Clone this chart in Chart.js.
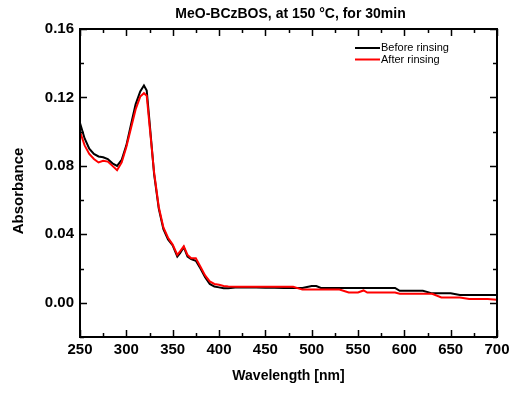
<!DOCTYPE html>
<html>
<head>
<meta charset="utf-8">
<script src="https://cdn.jsdelivr.net/npm/chart.js@4/dist/chart.umd.min.js"></script>
<style>
  body { margin: 0; background: #fff; }
  #wrap { width: 511px; height: 394px; }
</style>
</head>
<body>
<div id="wrap"><canvas id="uvChart" width="511" height="394"></canvas></div>
<script>
const chartTitle = 'MeO-BCzBOS, at 150 \u00B0C, for 30min';
const yTitle = 'Absorbance';
const seriesNames = ['Before rinsing', 'After rinsing'];
const seriesColors = ['#000000', '#ff0000'];

const wavelength = [250, 255, 260, 265, 270, 275, 280, 285, 290, 295, 300, 305, 310, 315, 319, 322, 325, 330, 335, 340,
  345, 350, 355, 358, 362, 366, 370, 375, 380, 385, 390, 395, 400, 405, 410, 420, 430, 440, 450, 460,
  470, 480, 490, 500, 505, 510, 520, 530, 540, 550, 556, 560, 570, 580, 590, 595, 600, 610, 620, 630,
  640, 650, 660, 670, 680, 690, 700];

const beforeRinsing = [0.105, 0.096, 0.090, 0.087, 0.0855, 0.085, 0.084, 0.0815, 0.080, 0.0835, 0.092, 0.104, 0.116, 0.1235, 0.127, 0.124, 0.106, 0.075, 0.055, 0.043,
  0.037, 0.0335, 0.027, 0.029, 0.0325, 0.027, 0.0255, 0.0245, 0.020, 0.015, 0.011, 0.0095, 0.009, 0.0085, 0.0085, 0.009, 0.009, 0.009, 0.0088, 0.0088,
  0.0087, 0.0087, 0.0087, 0.0098, 0.0098, 0.0087, 0.0087, 0.0087, 0.0087, 0.0087, 0.0087, 0.0087, 0.0087, 0.0087, 0.0087, 0.007, 0.007, 0.007, 0.007, 0.0055,
  0.0055, 0.0055, 0.0045, 0.0045, 0.0045, 0.0045, 0.0045];

const afterRinsing = [0.100, 0.092, 0.087, 0.084, 0.082, 0.083, 0.0825, 0.080, 0.0775, 0.082, 0.091, 0.102, 0.113, 0.1205, 0.1225, 0.121, 0.104, 0.076, 0.056, 0.044,
  0.038, 0.034, 0.028, 0.030, 0.033, 0.028, 0.026, 0.026, 0.021, 0.016, 0.0125, 0.011, 0.0105, 0.0098, 0.0095, 0.0094, 0.0094, 0.0094, 0.0094, 0.0094,
  0.0094, 0.0094, 0.0077, 0.0077, 0.0077, 0.0077, 0.0077, 0.0077, 0.006, 0.006, 0.0072, 0.006, 0.006, 0.006, 0.006, 0.0053, 0.0053, 0.0053, 0.0053, 0.0053,
  0.0031, 0.0031, 0.0031, 0.0022, 0.0022, 0.0022, 0.0017];

const xTicks = [250, 300, 350, 400, 450, 500, 550, 600, 650, 700];
const yTicks = [0.00, 0.04, 0.08, 0.12, 0.16];

const FONT = '"Liberation Sans", Arial, sans-serif';

function isLabelled(list, v) {
  return list.some(t => Math.abs(t - v) < 1e-6);
}

// frame, inward ticks, titles and legend drawn on top
const framePlugin = {
  id: 'frame',
  afterDatasetsDraw(chart) {
    const ctx = chart.ctx;
    const a = chart.chartArea;
    const xs = chart.scales.x, ys = chart.scales.y;
    ctx.save();
    ctx.strokeStyle = '#000';
    ctx.lineWidth = 2;
    ctx.strokeRect(a.left, a.top, a.right - a.left, a.bottom - a.top);

    ctx.lineWidth = 1.5;
    ctx.beginPath();
    xs.ticks.forEach(t => {
      const px = Math.round(xs.getPixelForValue(t.value)) + 0.5;
      const len = isLabelled(xTicks, t.value) ? 7 : 4;
      ctx.moveTo(px, a.bottom); ctx.lineTo(px, a.bottom - len);
      ctx.moveTo(px, a.top); ctx.lineTo(px, a.top + len);
    });
    ys.ticks.forEach(t => {
      const py = Math.round(ys.getPixelForValue(t.value)) + 0.5;
      const len = isLabelled(yTicks, t.value) ? 7 : 4;
      ctx.moveTo(a.left, py); ctx.lineTo(a.left + len, py);
      ctx.moveTo(a.right, py); ctx.lineTo(a.right - len, py);
    });
    ctx.stroke();

    ctx.fillStyle = '#000';
    ctx.textBaseline = 'middle';

    // title
    ctx.font = 'bold 14px ' + FONT;
    ctx.textAlign = 'center';
    ctx.fillText(chartTitle, (a.left + a.right) / 2 + 2, 14);

    // y axis title
    ctx.save();
    ctx.translate(19, 191);
    ctx.rotate(-Math.PI / 2);
    ctx.font = 'bold 15px ' + FONT;
    ctx.fillText(yTitle, 0, 0);
    ctx.restore();

    // legend
    ctx.font = '11px ' + FONT;
    ctx.textAlign = 'left';
    chart.data.datasets.forEach((ds, i) => {
      const y = 48 + i * 11.5;
      ctx.strokeStyle = ds.borderColor;
      ctx.lineWidth = 2;
      ctx.beginPath();
      ctx.moveTo(355, y); ctx.lineTo(380, y);
      ctx.stroke();
      ctx.fillStyle = '#000';
      ctx.fillText(ds.label, 381, y);
    });
    ctx.restore();
  }
};

new Chart(document.getElementById('uvChart'), {
  type: 'line',
  data: {
    datasets: [
      { label: seriesNames[0], data: wavelength.map((w, i) => ({ x: w, y: beforeRinsing[i] })),
        borderColor: seriesColors[0], borderWidth: 2, pointRadius: 0, tension: 0, order: 1 },
      { label: seriesNames[1], data: wavelength.map((w, i) => ({ x: w, y: afterRinsing[i] })),
        borderColor: seriesColors[1], borderWidth: 2, pointRadius: 0, tension: 0, order: 0 }
    ]
  },
  options: {
    responsive: false,
    animation: false,
    layout: { padding: { top: 29, right: 14, left: 0, bottom: 0 } },
    plugins: { legend: { display: false }, title: { display: false }, tooltip: { enabled: false } },
    scales: {
      x: {
        type: 'linear', min: 250, max: 700,
        grid: { display: false }, border: { display: false },
        ticks: {
          stepSize: 25, autoSkip: false, maxRotation: 0, padding: -4, color: '#000',
          font: { family: FONT, size: 15, weight: 'bold' },
          callback: v => isLabelled(xTicks, v) ? String(v) : ''
        },
        title: { display: true, text: 'Wavelength [nm]', color: '#000', padding: { top: 0, bottom: 9 },
          font: { family: FONT, size: 14, weight: 'bold' } },
        afterFit: s => { s.height = 57; }
      },
      y: {
        min: -0.02, max: 0.16,
        grid: { display: false }, border: { display: false },
        ticks: {
          stepSize: 0.02, autoSkip: false, padding: -2, color: '#000',
          font: { family: FONT, size: 15, weight: 'bold' },
          callback: v => isLabelled(yTicks, v) ? v.toFixed(2) : ''
        },
        afterFit: s => { s.width = 80; }
      }
    }
  },
  plugins: [framePlugin]
});
</script>
</body>
</html>
